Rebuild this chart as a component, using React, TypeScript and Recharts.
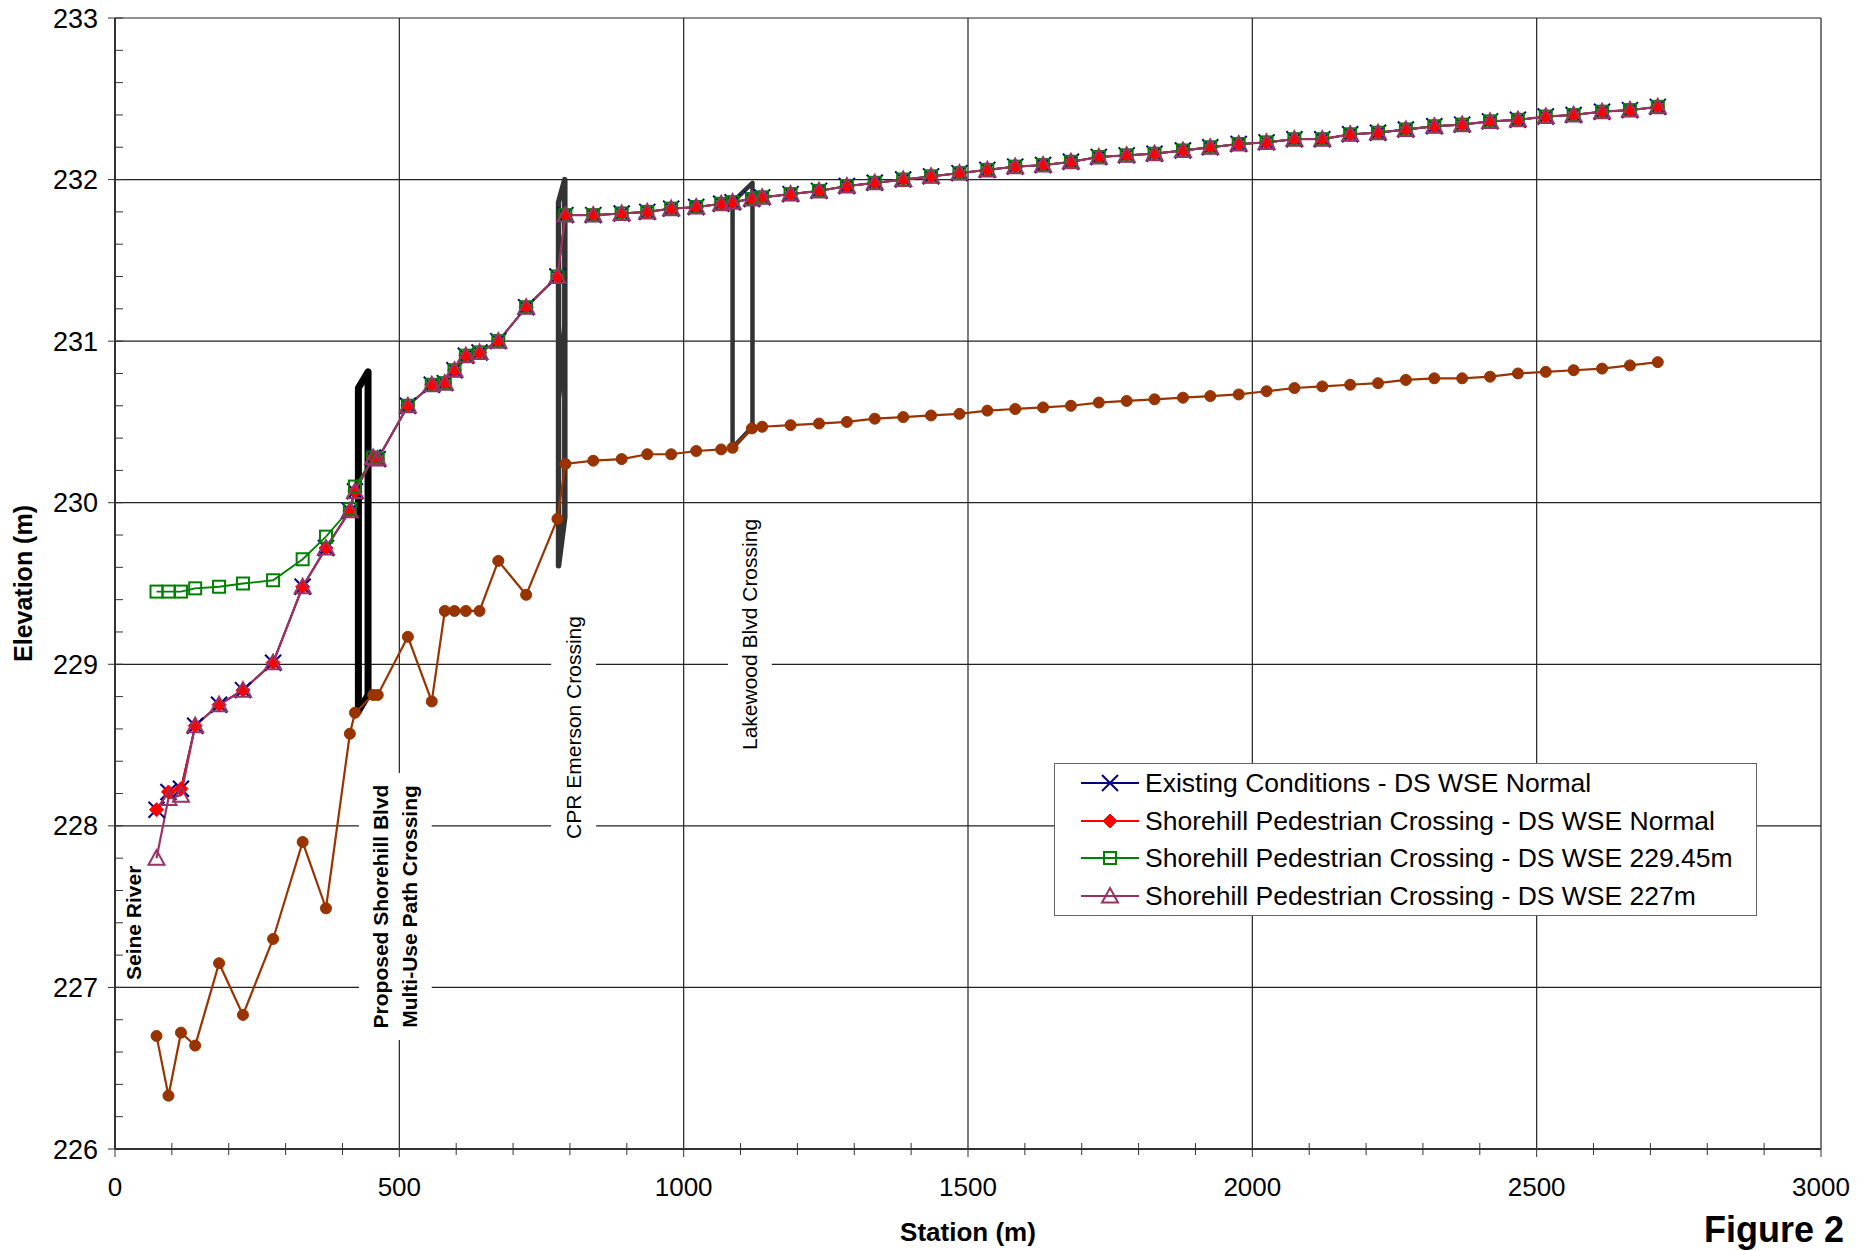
import React from "react";
import {
  Legend,
  Line,
  LineChart,
  ReferenceArea,
  ReferenceLine,
  XAxis,
  YAxis,
} from "recharts";

// river stations (m) shared by the water surface profiles and the channel bed
const STATIONS = [
  73, 94, 116, 141, 183, 225, 278, 330, 371, 413,
  422, 454, 462, 515, 557, 580, 597, 617, 641, 674,
  723, 778, 792, 841, 891, 936, 978, 1022, 1066, 1086,
  1120, 1138, 1188, 1238, 1287, 1336, 1386, 1435, 1485, 1534,
  1583, 1632, 1681, 1730, 1779, 1828, 1878, 1926, 1976, 2025,
  2074, 2123, 2172, 2221, 2270, 2320, 2369, 2418, 2467, 2516,
  2565, 2615, 2664, 2713,
];

const EXISTING_NORMAL = [
  228.1, 228.21, 228.23, 228.62, 228.75, 228.84, 229.01, 229.48, 229.72, 229.95,
  230.07, 230.28, 230.27, 230.6, 230.73, 230.74, 230.82, 230.91, 230.93, 231.0,
  231.21, 231.4, 231.78, 231.78, 231.79, 231.8, 231.82, 231.83, 231.85, 231.86,
  231.88, 231.89, 231.91, 231.93, 231.96, 231.98, 232.0, 232.02, 232.04, 232.06,
  232.08, 232.09, 232.11, 232.14, 232.15, 232.16, 232.18, 232.2, 232.22, 232.23,
  232.25, 232.25, 232.28, 232.29, 232.31, 232.33, 232.34, 232.36, 232.37, 232.39,
  232.4, 232.42, 232.43, 232.45,
];

const SHOREHILL_NORMAL = [
  228.1, 228.21, 228.23, 228.62, 228.75, 228.84, 229.01, 229.48, 229.72, 229.95,
  230.07, 230.28, 230.27, 230.6, 230.73, 230.74, 230.82, 230.91, 230.93, 231.0,
  231.21, 231.4, 231.78, 231.78, 231.79, 231.8, 231.82, 231.83, 231.85, 231.86,
  231.88, 231.89, 231.91, 231.93, 231.96, 231.98, 232.0, 232.02, 232.04, 232.06,
  232.08, 232.09, 232.11, 232.14, 232.15, 232.16, 232.18, 232.2, 232.22, 232.23,
  232.25, 232.25, 232.28, 232.29, 232.31, 232.33, 232.34, 232.36, 232.37, 232.39,
  232.4, 232.42, 232.43, 232.45,
];

const SHOREHILL_22945 = [
  229.45, 229.45, 229.45, 229.47, 229.48, 229.5, 229.52, 229.65, 229.79, 229.96,
  230.1, 230.28, 230.27, 230.6, 230.73, 230.74, 230.82, 230.91, 230.93, 231.0,
  231.21, 231.4, 231.78, 231.78, 231.79, 231.8, 231.82, 231.83, 231.85, 231.86,
  231.88, 231.89, 231.91, 231.93, 231.96, 231.98, 232.0, 232.02, 232.04, 232.06,
  232.08, 232.09, 232.11, 232.14, 232.15, 232.16, 232.18, 232.2, 232.22, 232.23,
  232.25, 232.25, 232.28, 232.29, 232.31, 232.33, 232.34, 232.36, 232.37, 232.39,
  232.4, 232.42, 232.43, 232.45,
];

const SHOREHILL_227 = [
  227.8, 228.17, 228.19, 228.62, 228.75, 228.84, 229.01, 229.48, 229.72, 229.95,
  230.07, 230.28, 230.27, 230.6, 230.73, 230.74, 230.82, 230.91, 230.93, 231.0,
  231.21, 231.4, 231.78, 231.78, 231.79, 231.8, 231.82, 231.83, 231.85, 231.86,
  231.88, 231.89, 231.91, 231.93, 231.96, 231.98, 232.0, 232.02, 232.04, 232.06,
  232.08, 232.09, 232.11, 232.14, 232.15, 232.16, 232.18, 232.2, 232.22, 232.23,
  232.25, 232.25, 232.28, 232.29, 232.31, 232.33, 232.34, 232.36, 232.37, 232.39,
  232.4, 232.42, 232.43, 232.45,
];

const CHANNEL_BED = [
  226.7, 226.33, 226.72, 226.64, 227.15, 226.83, 227.3, 227.9, 227.49, 228.57,
  228.7, 228.81, 228.81, 229.17, 228.77, 229.33, 229.33, 229.33, 229.33, 229.64,
  229.43, 229.9, 230.24, 230.26, 230.27, 230.3, 230.3, 230.32, 230.33, 230.34,
  230.46, 230.47, 230.48, 230.49, 230.5, 230.52, 230.53, 230.54, 230.55, 230.57,
  230.58, 230.59, 230.6, 230.62, 230.63, 230.64, 230.65, 230.66, 230.67, 230.69,
  230.71, 230.72, 230.73, 230.74, 230.76, 230.77, 230.77, 230.78, 230.8, 230.81,
  230.82, 230.83, 230.85, 230.87,
];

// crossing structure outlines (station, elevation); null breaks the outline
const SHOREHILL_BRIDGE_STA = [428, 428, 445, 445, 428];
const SHOREHILL_BRIDGE_EL = [228.71, 230.71, 230.81, 228.81, 228.71];
const CPR_BRIDGE_STA = [780, 780, 791, 791, 780, 780, 780, 791];
const CPR_BRIDGE_EL = [229.61, 231.86, 232.0, 229.91, 229.61, null, 230.64, 231.09];
const LAKEWOOD_BRIDGE_STA = [1086, 1086, 1121, 1121, 1086];
const LAKEWOOD_BRIDGE_EL = [230.34, 231.86, 231.98, 230.47, 230.34];

const X_MAJOR = [0, 500, 1000, 1500, 2000, 2500, 3000];
const Y_MAJOR = [226, 227, 228, 229, 230, 231, 232, 233];
const X_TICKS = Array.from({ length: 31 }, (_, i) => i * 100);
const Y_TICKS = Array.from({ length: 36 }, (_, i) => Math.round((226 + i * 0.2) * 10) / 10);

const LEGEND_ITEMS = [
  { name: "Existing Conditions - DS WSE Normal", color: "#000080", marker: "x" },
  { name: "Shorehill Pedestrian Crossing - DS WSE Normal", color: "#ff0000", marker: "diamond" },
  { name: "Shorehill Pedestrian Crossing - DS WSE 229.45m", color: "#008000", marker: "square" },
  { name: "Shorehill Pedestrian Crossing - DS WSE 227m", color: "#993366", marker: "triangle" },
];

const rows = STATIONS.map((station, i) => ({
  station,
  existing: EXISTING_NORMAL[i],
  normal: SHOREHILL_NORMAL[i],
  ds22945: SHOREHILL_22945[i],
  ds227: SHOREHILL_227[i],
  bed: CHANNEL_BED[i],
}));

const outline = (sta: number[], el: (number | null)[]) =>
  sta.map((station, i) => ({ station, elev: el[i] }));

const FONT = "'Liberation Sans', Arial, sans-serif";
const AXIS = "#333";
const GRID = "#222";

function Marker({ kind, cx, cy, color }: { kind: string; cx: number; cy: number; color: string }) {
  if (kind === "x") {
    const r = 8;
    return (
      <path
        d={`M${cx - r},${cy - r}L${cx + r},${cy + r}M${cx - r},${cy + r}L${cx + r},${cy - r}`}
        stroke={color}
        strokeWidth={2}
        fill="none"
      />
    );
  }
  if (kind === "diamond") {
    const r = 7;
    return (
      <path
        d={`M${cx},${cy - r}L${cx + r},${cy}L${cx},${cy + r}L${cx - r},${cy}Z`}
        fill={color}
        stroke={color}
        strokeWidth={1}
      />
    );
  }
  if (kind === "square") {
    return <rect x={cx - 6} y={cy - 6} width={12} height={12} fill="none" stroke={color} strokeWidth={2} />;
  }
  if (kind === "triangle") {
    return (
      <path
        d={`M${cx},${cy - 8}L${cx + 8},${cy + 6.5}L${cx - 8},${cy + 6.5}Z`}
        fill="none"
        stroke={color}
        strokeWidth={2}
      />
    );
  }
  return <circle cx={cx} cy={cy} r={5.5} fill={color} stroke={color} />;
}

const dotOf = (kind: string, color: string) => (p: any) => {
  if (p.cx == null || p.cy == null || p.value == null) return <g key={p.index} />;
  return (
    <g key={p.index}>
      <Marker kind={kind} cx={p.cx} cy={p.cy} color={color} />
    </g>
  );
};

function XTick({ x, y, payload }: any) {
  const v = payload.value as number;
  const major = v % 500 === 0;
  return (
    <g>
      <line x1={x} x2={x} y1={major ? y : y - 6} y2={y + (major ? 8 : 6)} stroke={AXIS} strokeWidth={1} />
      {major && (
        <text x={x} y={y + 47} textAnchor="middle" fontSize={26} fontFamily={FONT} fill="#000">
          {v}
        </text>
      )}
    </g>
  );
}

function YTick({ x, y, payload }: any) {
  const v = payload.value as number;
  const major = Math.abs(v - Math.round(v)) < 1e-6;
  return (
    <g>
      <line x1={major ? x - 7 : x} x2={x + 8} y1={y} y2={y} stroke={AXIS} strokeWidth={1} />
      {major && (
        <text x={x - 17} y={y + 9.5} textAnchor="end" fontSize={27} fontFamily={FONT} fill="#000">
          {Math.round(v)}
        </text>
      )}
    </g>
  );
}

function XTitle({ viewBox }: any) {
  const vb = viewBox || { x: 115, y: 1149, width: 1706 };
  return (
    <g fontFamily={FONT} fontWeight={700} fill="#000">
      <text x={vb.x + vb.width / 2} y={vb.y + 92} textAnchor="middle" fontSize={26}>
        Station (m)
      </text>
      <text x={vb.x + vb.width + 23} y={vb.y + 93} textAnchor="end" fontSize={36}>
        Figure 2
      </text>
    </g>
  );
}

function YTitle({ viewBox }: any) {
  const vb = viewBox || { x: 35, y: 18, height: 1131 };
  const cx = 23;
  const cy = vb.y + vb.height / 2;
  return (
    <text
      x={cx}
      y={cy}
      transform={`rotate(-90 ${cx} ${cy})`}
      textAnchor="middle"
      dominantBaseline="central"
      fontSize={25}
      fontWeight={700}
      fontFamily={FONT}
      fill="#000"
    >
      Elevation (m)
    </text>
  );
}

function VerticalNote({ viewBox, lines, bold }: any) {
  if (!viewBox) return null;
  const cx = viewBox.x + viewBox.width / 2;
  const cy = viewBox.y + viewBox.height / 2;
  const gap = 29;
  return (
    <g>
      {lines.map((t: string, i: number) => {
        const tx = cx + (i - (lines.length - 1) / 2) * gap;
        return (
          <text
            key={t}
            x={tx}
            y={cy}
            transform={`rotate(-90 ${tx} ${cy})`}
            textAnchor="middle"
            dominantBaseline="central"
            fontSize={21}
            fontWeight={bold ? 700 : 400}
            fontFamily={FONT}
            fill="#000"
          >
            {t}
          </text>
        );
      })}
    </g>
  );
}

function LegendBox() {
  return (
    <div
      style={{
        boxSizing: "border-box",
        width: 703,
        height: 153,
        border: "1px solid #666",
        background: "#fff",
        padding: "0 0 0 26px",
        fontFamily: FONT,
        fontSize: 26.5,
        color: "#000",
        display: "flex",
        flexDirection: "column",
        justifyContent: "center",
      }}
    >
      {LEGEND_ITEMS.map((it) => (
        <div key={it.name} style={{ display: "flex", alignItems: "center", height: 37.5 }}>
          <svg width={58} height={22} style={{ marginRight: 6, flex: "none" }}>
            <line x1={0} x2={58} y1={11} y2={11} stroke={it.color} strokeWidth={2} />
            <Marker kind={it.marker} cx={29} cy={11} color={it.color} />
          </svg>
          <span style={{ whiteSpace: "nowrap", lineHeight: "30px" }}>{it.name}</span>
        </div>
      ))}
    </div>
  );
}

export default function App() {
  return (
    <div style={{ position: "absolute", left: 0, top: 0, width: 1874, height: 1251, background: "#fff" }}>
      <LineChart
        width={1874}
        height={1251}
        data={rows}
        margin={{ top: 18, right: 53, bottom: 42, left: 35 }}
        style={{ fontFamily: FONT }}
      >
        {X_MAJOR.filter((v) => v > 0).map((v) => (
          <ReferenceLine key={`gx${v}`} x={v} stroke={GRID} strokeWidth={1.2} zIndex={-20} />
        ))}
        {Y_MAJOR.filter((v) => v > 226).map((v) => (
          <ReferenceLine key={`gy${v}`} y={v} stroke={GRID} strokeWidth={1.2} zIndex={-20} />
        ))}

        <ReferenceArea x1={12} x2={53} y1={227.02} y2={227.78} fill="#fff" fillOpacity={1} stroke="none" zIndex={-10}
          label={(p: any) => <VerticalNote viewBox={p.viewBox} lines={["Seine River"]} bold />} />
        <ReferenceArea x1={429} x2={557} y1={226.675} y2={228.327} fill="#fff" fillOpacity={1} stroke="none" zIndex={-10}
          label={(p: any) => (
            <VerticalNote viewBox={p.viewBox} lines={["Proposed Shorehill Blvd", "Multi-Use Path Crossing"]} bold />
          )} />
        <ReferenceArea x1={767} x2={846} y1={227.882} y2={229.336} fill="#fff" fillOpacity={1} stroke="none" zIndex={-10}
          label={(p: any) => <VerticalNote viewBox={p.viewBox} lines={["CPR Emerson Crossing"]} />} />
        <ReferenceArea x1={1078} x2={1155} y1={228.426} y2={229.943} fill="#fff" fillOpacity={1} stroke="none" zIndex={-10}
          label={(p: any) => <VerticalNote viewBox={p.viewBox} lines={["Lakewood Blvd Crossing"]} />} />

        <XAxis
          type="number"
          dataKey="station"
          domain={[0, 3000]}
          ticks={X_TICKS}
          interval={0}
          tickSize={0}
          tickMargin={0}
          tickLine={false}
          tick={<XTick />}
          axisLine={{ stroke: AXIS, strokeWidth: 2 }}
          height={60}
          label={<XTitle />}
        />
        <YAxis
          type="number"
          domain={[226, 233]}
          ticks={Y_TICKS}
          interval={0}
          tickSize={0}
          tickMargin={0}
          tickLine={false}
          tick={<YTick />}
          axisLine={{ stroke: AXIS, strokeWidth: 2 }}
          width={80}
          label={<YTitle />}
        />

        <Line data={outline(SHOREHILL_BRIDGE_STA, SHOREHILL_BRIDGE_EL)} dataKey="elev" type="linear"
          stroke="#000" strokeWidth={7} strokeLinecap="round" strokeLinejoin="round" dot={false}
          activeDot={false} legendType="none" isAnimationActive={false} />
        <Line data={outline(CPR_BRIDGE_STA, CPR_BRIDGE_EL)} dataKey="elev" type="linear"
          stroke="#333" strokeWidth={5.5} strokeLinecap="round" strokeLinejoin="round" dot={false}
          activeDot={false} legendType="none" isAnimationActive={false} />
        <Line data={outline(LAKEWOOD_BRIDGE_STA, LAKEWOOD_BRIDGE_EL)} dataKey="elev" type="linear"
          stroke="#333" strokeWidth={4.5} strokeLinecap="round" strokeLinejoin="round" dot={false}
          activeDot={false} legendType="none" isAnimationActive={false} />

        <Line dataKey="bed" name="Channel Bed" type="linear" stroke="#993300" strokeWidth={2.2}
          dot={dotOf("circle", "#993300")} activeDot={false} legendType="none" isAnimationActive={false} />
        <Line dataKey="existing" name={LEGEND_ITEMS[0].name} type="linear" stroke="#000080" strokeWidth={1.8}
          dot={dotOf("x", "#000080")} activeDot={false} isAnimationActive={false} />
        <Line dataKey="normal" name={LEGEND_ITEMS[1].name} type="linear" stroke="#ff0000" strokeWidth={1.8}
          dot={dotOf("diamond", "#ff0000")} activeDot={false} isAnimationActive={false} />
        <Line dataKey="ds22945" name={LEGEND_ITEMS[2].name} type="linear" stroke="#008000" strokeWidth={1.8}
          dot={dotOf("square", "#008000")} activeDot={false} isAnimationActive={false} />
        <Line dataKey="ds227" name={LEGEND_ITEMS[3].name} type="linear" stroke="#993366" strokeWidth={2.2}
          dot={dotOf("triangle", "#993366")} activeDot={false} isAnimationActive={false} />

        <Legend
          layout="vertical"
          align="center"
          verticalAlign="middle"
          content={() => <LegendBox />}
          wrapperStyle={{ left: 1054, top: 763, width: 703, height: 153 }}
        />
      </LineChart>
    </div>
  );
}
